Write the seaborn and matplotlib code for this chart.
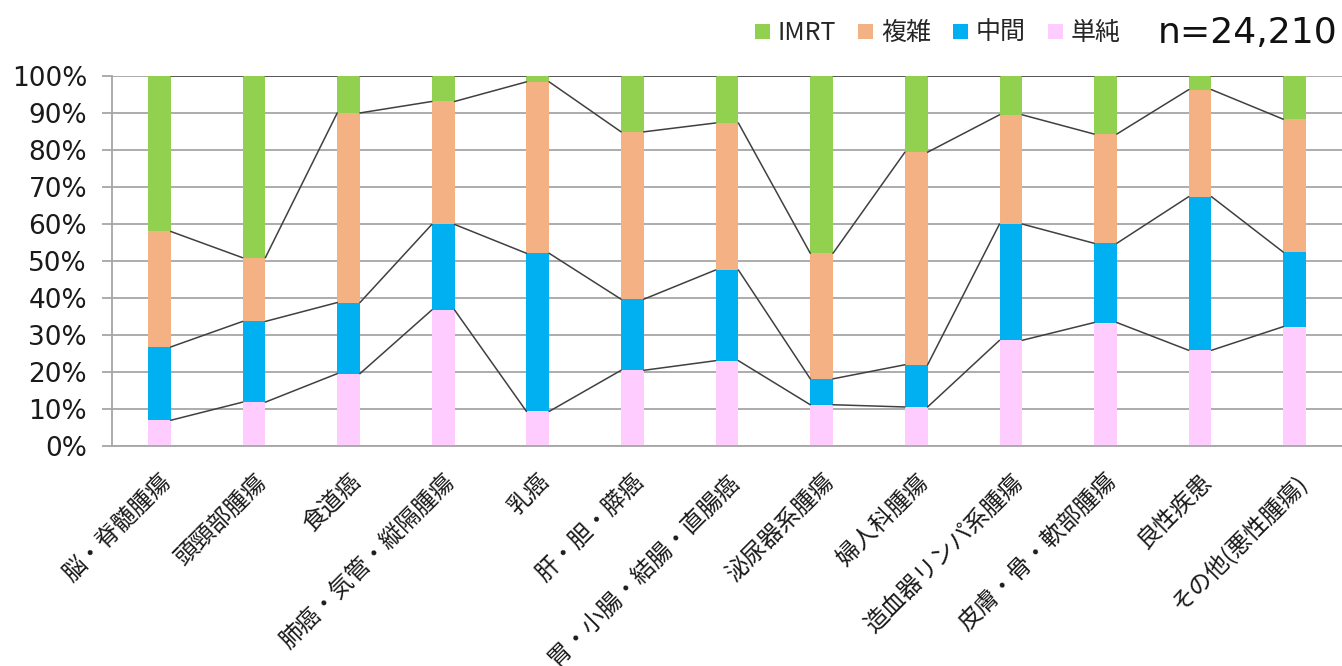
import numpy as np
import pandas as pd
import matplotlib
matplotlib.use("Agg")
import matplotlib.pyplot as plt
import seaborn as sns
from matplotlib.patches import Patch

categories = ["脳・脊髄腫瘍", "頭頸部腫瘍", "食道癌", "肺癌・気管・縦隔腫瘍", "乳癌",
              "肝・胆・膵癌", "胃・小腸・結腸・直腸癌", "泌尿器系腫瘍", "婦人科腫瘍",
              "造血器リンパ系腫瘍", "皮膚・骨・軟部腫瘍", "良性疾患", "その他(悪性腫瘍)"]
simple = [7.0, 11.9, 19.6, 36.8, 9.4, 20.5, 23.1, 11.2, 10.6, 28.6, 33.4, 25.9, 32.3]
middle = [19.8, 21.8, 19.2, 23.1, 42.7, 19.2, 24.5, 7.0, 11.4, 31.4, 21.4, 41.5, 20.1]
complex_ = [31.2, 17.2, 51.2, 33.2, 46.3, 45.2, 39.7, 33.9, 57.4, 29.5, 29.5, 28.9, 35.9]
imrt = [42.0, 49.1, 10.0, 6.9, 1.6, 15.1, 12.7, 47.9, 20.6, 10.5, 15.7, 3.7, 11.7]
series_names = ["IMRT", "複雑", "中間", "単純"]
n_label = "n=24,210"
yticks = [0, 10, 20, 30, 40, 50, 60, 70, 80, 90, 100]

colors = {"IMRT": "#92D050", "複雑": "#F4B183", "中間": "#00B0F0", "単純": "#FFCCFF"}

df = pd.DataFrame({"cat": categories, "単純": simple, "中間": middle,
                   "複雑": complex_, "IMRT": imrt})
df["c_単純"] = df["単純"]
df["c_中間"] = df["c_単純"] + df["中間"]
df["c_複雑"] = df["c_中間"] + df["複雑"]
df["c_IMRT"] = df["c_複雑"] + df["IMRT"]

sns.set_theme(style="white")
plt.rcParams["font.family"] = ["DejaVu Sans", "Noto Sans CJK JP"]

fig = plt.figure(figsize=(13.42, 6.66), dpi=100)
ax = fig.add_axes([0.0835, 0.33, 0.9165, 0.556])

bw = 0.24
for name in ["IMRT", "複雑", "中間", "単純"]:
    sns.barplot(data=df, x="cat", y="c_" + name, color=colors[name], width=bw,
                ax=ax, saturation=1, zorder=2, linewidth=0)

# series lines
x = np.arange(len(categories))
for name in ["IMRT", "複雑", "中間", "単純"]:
    vals = df["c_" + name].values
    for i in range(len(categories) - 1):
        ax.plot([x[i] + bw / 2, x[i + 1] - bw / 2], [vals[i], vals[i + 1]],
                color="#404040", lw=1.1, zorder=3)

ax.set_xlim(-0.5, len(categories) - 0.5)
ax.set_ylim(0, 100)
ax.set_yticks(yticks)
ax.set_yticklabels([f"{v}%" for v in yticks], fontsize=19, color="#1a1a1a")
ax.yaxis.grid(True, color="#A6A6A6", lw=1.3, zorder=0)
ax.set_axisbelow(True)
for s in ["top", "right"]:
    ax.spines[s].set_visible(False)
ax.spines["left"].set_color("#A6A6A6")
ax.spines["bottom"].set_color("#A6A6A6")
ax.spines["left"].set_linewidth(1.3)
ax.spines["bottom"].set_linewidth(1.3)
ax.tick_params(axis="y", length=7, color="#A6A6A6", width=1.3, pad=11, left=True)
ax.tick_params(axis="x", length=0, pad=17)
ax.set_xlabel("")
ax.set_ylabel("")
ax.set_xticks(x)
ax.set_xticklabels(categories, rotation=45, ha="right", rotation_mode="anchor",
                   fontsize=17, family=["Noto Sans CJK JP", "DejaVu Sans"], color="#1a1a1a")

handles = [Patch(facecolor=colors[n], edgecolor="none", label=n) for n in series_names]
leg = fig.legend(handles=handles, loc="center right", bbox_to_anchor=(0.852, 0.95),
                 ncol=4, frameon=False, handlelength=0.6, handleheight=0.6,
                 handletextpad=0.3, columnspacing=0.9,
                 prop={"family": ["Noto Sans CJK JP", "DejaVu Sans"], "size": 18})
fig.text(0.997, 0.95, n_label, ha="right", va="center", fontsize=26, color="#111111")

fig.savefig("out.png", dpi=100)
